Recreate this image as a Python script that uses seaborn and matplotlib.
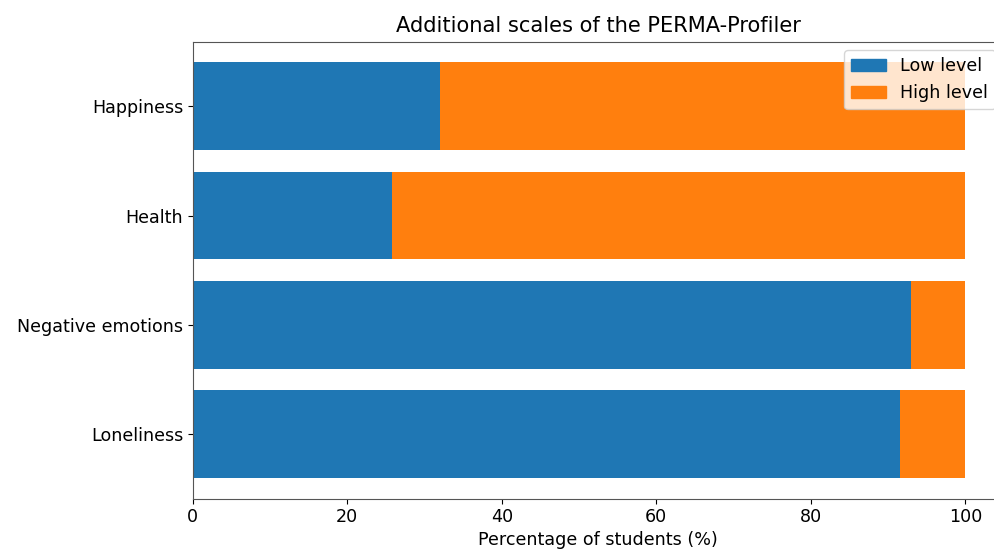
import matplotlib
matplotlib.use("Agg")
import matplotlib.pyplot as plt
import matplotlib.patches as mpatches
import seaborn as sns

# data
scales = ["Happiness", "Health", "Negative emotions", "Loneliness"]
low_level = [32.0, 25.8, 93.0, 91.5]
high_level = [68.0, 74.2, 7.0, 8.5]

blue = "#1f77b4"
orange = "#ff7f0e"

fig = plt.figure(figsize=(9.95, 5.56), dpi=100)
ax = fig.add_axes([0.1937, 0.103, 0.8153, 0.822])

totals = [lo + hi for lo, hi in zip(low_level, high_level)]

# stacked bars: full length in orange, low part in blue on top
sns.barplot(x=totals, y=scales, orient="h", color=orange, saturation=1,
            width=0.8, ax=ax)
sns.barplot(x=low_level, y=scales, orient="h", color=blue, saturation=1,
            width=0.8, ax=ax)

ax.set_xlim(0, 105)
ax.set_ylim(3.59, -0.59)
ax.set_xticks([0, 20, 40, 60, 80, 100])

ax.set_title("Additional scales of the PERMA-Profiler", fontsize=15.1, pad=7)
ax.set_xlabel("Percentage of students (%)", fontsize=12.6, labelpad=3)
ax.set_ylabel("")
ax.tick_params(labelsize=12.6)
for sp in ax.spines.values():
    sp.set_color("#555555")

handles = [mpatches.Patch(color=blue, label="Low level"),
           mpatches.Patch(color=orange, label="High level")]
ax.legend(handles=handles, loc="upper right", fontsize=12.6)

fig.savefig("out.png", dpi=100)
